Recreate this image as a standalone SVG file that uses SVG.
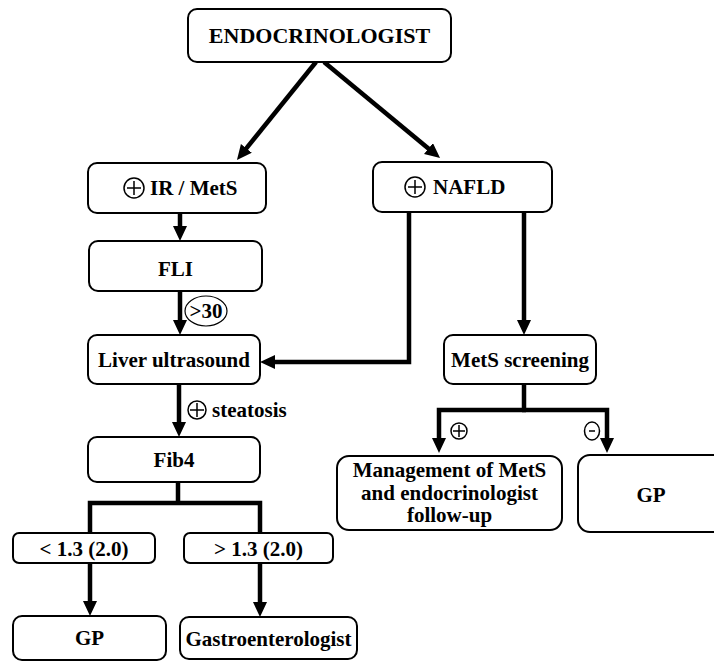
<svg xmlns="http://www.w3.org/2000/svg" width="714" height="662" viewBox="0 0 714 662">
<style>
.box{fill:#fff;stroke:#000;stroke-width:2}
.t{font-family:"Liberation Serif","Times New Roman",serif;font-weight:bold;font-size:21px;fill:#000}
.c{text-anchor:middle}
.con{fill:none;stroke:#000;stroke-width:4.5}
.sym{fill:none;stroke:#000;stroke-width:1.5}
</style>
<defs>
<marker id="ah" markerUnits="userSpaceOnUse" markerWidth="16" markerHeight="16" refX="3" refY="7" orient="auto">
<path d="M0,0 L15,7 L0,14 z" fill="#000"/>
</marker>
</defs>
<rect width="714" height="662" fill="#fff"/>
<g id="connectors">
<path class="con" d="M316,62 L244.5,150.7" marker-end="url(#ah)"/>
<path class="con" d="M324,62 L430.8,150.4" marker-end="url(#ah)"/>
<path class="con" d="M180,213 V229" marker-end="url(#ah)"/>
<path class="con" d="M180,291 V323" marker-end="url(#ah)"/>
<path class="con" d="M179,384 V425" marker-end="url(#ah)"/>
<path class="con" d="M409,212 V362 H272" marker-end="url(#ah)"/>
<path class="con" d="M524,212 V323" marker-end="url(#ah)"/>
<path class="con" d="M178,482 V503 M90,533 V503 H260 V533"/>
<path class="con" d="M90,563 V604" marker-end="url(#ah)"/>
<path class="con" d="M260,563 V605" marker-end="url(#ah)"/>
<path class="con" d="M524,384 V410"/>
<path class="con" d="M526,410 H439 V441" marker-end="url(#ah)"/>
<path class="con" d="M522,410 H607 V441" marker-end="url(#ah)"/>
</g>
<g id="label-gt30">
<ellipse cx="206" cy="311" rx="21" ry="15" fill="#fff" stroke="#000" stroke-width="1.2"/>
<text class="t c" x="206" y="318">&gt;30</text>
</g>
<g id="label-steatosis">
<circle class="sym" cx="197" cy="410" r="9"/>
<path class="sym" d="M190,410 H204 M197,403 V417"/>
<text class="t" x="212" y="417">steatosis</text>
</g>
<g id="label-plus">
<circle class="sym" cx="459" cy="431" r="8"/>
<path class="sym" d="M453,431 H465 M459,425 V437"/>
</g>
<g id="label-minus">
<ellipse class="sym" cx="592" cy="431" rx="7.5" ry="9"/>
<path class="sym" d="M589,431 H595"/>
</g>
<g id="endo">
<rect class="box" x="188" y="9" width="263" height="53" rx="9"/>
<text class="t c" x="319.5" y="43" style="font-size:22px">ENDOCRINOLOGIST</text>
</g>
<g id="ir">
<rect class="box" x="88" y="163" width="178" height="50" rx="9"/>
<circle class="sym" cx="134" cy="188" r="10"/>
<path class="sym" d="M127,188 H141 M134,181 V195"/>
<text class="t" x="150" y="195">IR / MetS</text>
</g>
<g id="nafld">
<rect class="box" x="373" y="162" width="179" height="50" rx="9"/>
<circle class="sym" cx="415" cy="187" r="10"/>
<path class="sym" d="M408,187 H422 M415,180 V194"/>
<text class="t" x="433" y="194">NAFLD</text>
</g>
<g id="fli">
<rect class="box" x="89" y="241" width="173" height="50" rx="9"/>
<text class="t c" x="175.5" y="276">FLI</text>
</g>
<g id="liver">
<rect class="box" x="88" y="335" width="172" height="49" rx="9"/>
<text class="t c" x="174" y="367">Liver ultrasound</text>
</g>
<g id="fib4">
<rect class="box" x="88" y="437" width="172" height="45" rx="9"/>
<text class="t c" x="174" y="467">Fib4</text>
</g>
<g id="lt">
<rect class="box" x="13" y="533" width="142" height="30" rx="6"/>
<text class="t c" x="84" y="556">&lt; 1.3 (2.0)</text>
</g>
<g id="gt">
<rect class="box" x="184" y="533" width="149" height="30" rx="6"/>
<text class="t c" x="258.5" y="556">&gt; 1.3 (2.0)</text>
</g>
<g id="gp1">
<rect class="box" x="13" y="616" width="153" height="44" rx="9"/>
<text class="t c" x="89.5" y="645">GP</text>
</g>
<g id="gastro">
<rect class="box" x="180" y="617" width="177" height="42" rx="9"/>
<text class="t c" x="268.5" y="646">Gastroenterologist</text>
</g>
<g id="mets">
<rect class="box" x="444" y="335" width="152" height="49" rx="9"/>
<text class="t c" x="520" y="367">MetS screening</text>
</g>
<g id="mgmt">
<rect class="box" x="337" y="456" width="225" height="74" rx="12"/>
<text class="t c" x="449.5" y="477">Management of MetS</text>
<text class="t c" x="449.5" y="500">and endocrinologist</text>
<text class="t c" x="449.5" y="522">follow-up</text>
</g>
<g id="gp2">
<rect class="box" x="578" y="455" width="150" height="77" rx="12"/>
<text class="t c" x="651" y="502">GP</text>
</g>
</svg>
